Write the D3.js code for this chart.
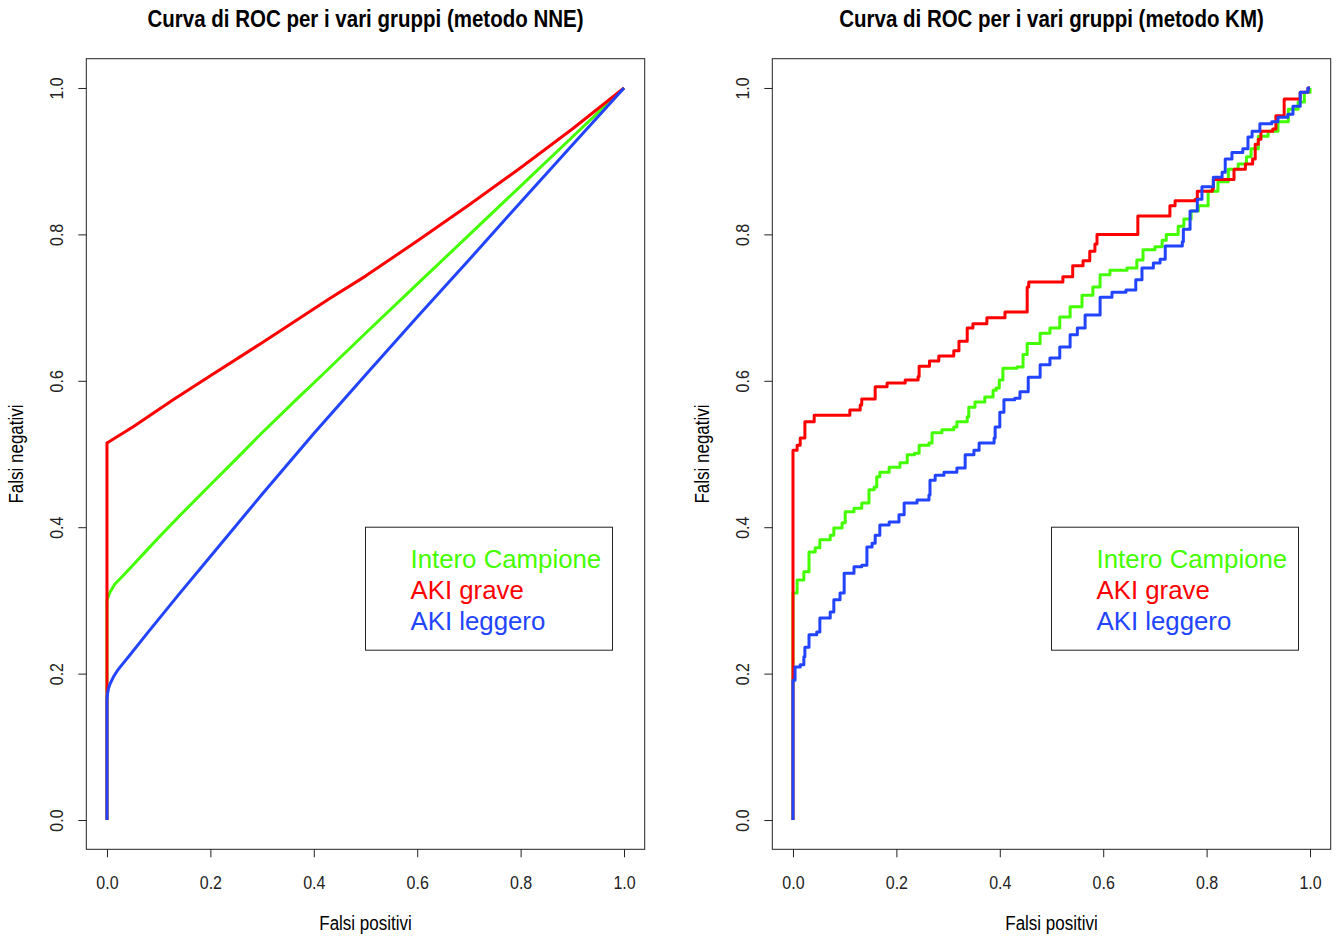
<!DOCTYPE html>
<html>
<head>
<meta charset="utf-8">
<script src="https://cdn.jsdelivr.net/npm/d3@7"></script>
<style>
  body { margin: 0; background: #fff; }
  svg text { font-family: "Liberation Sans", Arial, sans-serif; }
</style>
</head>
<body>
<div id="wrapper"></div>
<script>
// series labels and colours (legend order)
const seriesNames = ["Intero Campione", "AKI grave", "AKI leggero"]
const seriesColors = ["#44ff00", "#ff0000", "#2244ff"]
const tickValues = [0, 0.2, 0.4, 0.6, 0.8, 1.0]

// metodo NNE - smooth curves [falsi positivi, falsi negativi]
const nneIntero = [[0,0],[0,0.30],[0.005,0.31],[0.015,0.322],[0.03,0.333],[0.05,0.348],[0.075,0.367],[0.1,0.386],[0.141,0.416],[0.2,0.458],[0.251,0.494],[0.3,0.529],[0.373,0.579],[0.4,0.597],[0.5,0.665],[0.6,0.732],[0.7,0.799],[0.8,0.866],[0.9,0.933],[1,1]]
const nneGrave = [[0,0],[0,0.515],[0.05,0.537],[0.128,0.574],[0.2,0.607],[0.3,0.652],[0.43,0.712],[0.5,0.743],[0.6,0.791],[0.7,0.84],[0.8,0.891],[0.9,0.944],[1,1]]
const nneLeggero = [[0,0],[0,0.165],[0.001,0.172],[0.003,0.18],[0.006,0.186],[0.012,0.195],[0.02,0.204],[0.03,0.213],[0.044,0.225],[0.08,0.257],[0.141,0.31],[0.2,0.36],[0.3,0.445],[0.4,0.528],[0.5,0.608],[0.6,0.687],[0.7,0.765],[0.8,0.844],[0.9,0.922],[1,1]]

// metodo KM - step curves, each point = where the step jumps
const kmIntero = [[0,0],[0,0.31],[0.008,0.328],[0.021,0.339],[0.031,0.366],[0.043,0.372],[0.052,0.383],[0.072,0.389],[0.079,0.399],[0.095,0.406],[0.101,0.421],[0.118,0.426],[0.133,0.433],[0.147,0.451],[0.157,0.455],[0.162,0.469],[0.168,0.475],[0.186,0.482],[0.207,0.488],[0.221,0.499],[0.235,0.501],[0.244,0.512],[0.263,0.515],[0.269,0.529],[0.288,0.533],[0.311,0.537],[0.317,0.544],[0.337,0.551],[0.340,0.564],[0.352,0.571],[0.371,0.578],[0.387,0.587],[0.393,0.59],[0.399,0.601],[0.406,0.617],[0.433,0.619],[0.445,0.636],[0.453,0.651],[0.478,0.665],[0.497,0.672],[0.516,0.687],[0.536,0.701],[0.559,0.717],[0.580,0.728],[0.594,0.745],[0.613,0.751],[0.646,0.754],[0.665,0.765],[0.677,0.779],[0.700,0.783],[0.714,0.792],[0.722,0.80],[0.745,0.811],[0.756,0.821],[0.770,0.832],[0.784,0.839],[0.803,0.859],[0.822,0.872],[0.842,0.889],[0.861,0.896],[0.877,0.906],[0.886,0.917],[0.900,0.934],[0.919,0.941],[0.938,0.954],[0.958,0.971],[0.977,0.981],[0.989,0.994],[1,1]]
const kmGrave = [[0,0],[0,0.505],[0.008,0.512],[0.014,0.522],[0.023,0.544],[0.041,0.553],[0.110,0.56],[0.130,0.567],[0.133,0.575],[0.159,0.592],[0.182,0.597],[0.217,0.601],[0.242,0.606],[0.244,0.62],[0.264,0.627],[0.282,0.634],[0.311,0.641],[0.321,0.654],[0.337,0.672],[0.348,0.678],[0.375,0.686],[0.410,0.694],[0.453,0.728],[0.456,0.735],[0.522,0.742],[0.541,0.757],[0.561,0.764],[0.574,0.777],[0.584,0.787],[0.588,0.80],[0.667,0.825],[0.729,0.839],[0.739,0.846],[0.778,0.848],[0.782,0.859],[0.811,0.862],[0.813,0.875],[0.853,0.889],[0.875,0.896],[0.889,0.903],[0.894,0.923],[0.900,0.93],[0.905,0.941],[0.928,0.944],[0.934,0.962],[0.950,0.985],[0.981,0.994],[0.996,1.0],[1,1]]
const kmLeggero = [[0,0],[0,0.191],[0.004,0.209],[0.014,0.212],[0.021,0.223],[0.023,0.236],[0.031,0.253],[0.046,0.257],[0.052,0.276],[0.072,0.284],[0.079,0.301],[0.091,0.31],[0.099,0.337],[0.118,0.346],[0.133,0.348],[0.143,0.373],[0.153,0.378],[0.159,0.389],[0.168,0.403],[0.186,0.407],[0.205,0.417],[0.215,0.433],[0.240,0.437],[0.263,0.444],[0.265,0.464],[0.275,0.471],[0.292,0.475],[0.317,0.481],[0.333,0.499],[0.350,0.505],[0.360,0.515],[0.389,0.522],[0.391,0.537],[0.400,0.557],[0.408,0.574],[0.429,0.576],[0.439,0.585],[0.455,0.605],[0.478,0.622],[0.497,0.631],[0.516,0.646],[0.536,0.663],[0.550,0.672],[0.565,0.690],[0.594,0.714],[0.617,0.721],[0.644,0.724],[0.663,0.738],[0.675,0.754],[0.697,0.761],[0.710,0.766],[0.720,0.784],[0.753,0.79],[0.755,0.807],[0.768,0.832],[0.782,0.848],[0.791,0.865],[0.813,0.878],[0.830,0.885],[0.836,0.903],[0.849,0.912],[0.870,0.917],[0.880,0.933],[0.888,0.941],[0.903,0.951],[0.926,0.954],[0.938,0.96],[0.957,0.964],[0.967,0.975],[0.981,0.994],[0.996,1.0],[1,1]]

const width = 1339
const height = 937
// the original text is drawn a bit taller than wide
const stretch = 1.15

const svg = d3.select("#wrapper")
    .append("svg")
    .attr("width", width)
    .attr("height", height)

function drawPanel(opts) {
    // R pads the axis range by 4% on each side
    const xScale = d3.scaleLinear()
        .domain([-0.04, 1.04])
        .range([opts.left, opts.right])
    const yScale = d3.scaleLinear()
        .domain([-0.04, 1.04])
        .range([849.3, 58.7])

    const g = svg.append("g")

    // title
    g.append("text")
        .attr("transform", `translate(${(opts.left + opts.right) / 2}, 27) scale(1, ${stretch})`)
        .attr("text-anchor", "middle")
        .style("font-weight", "bold")
        .style("font-size", "20.5px")
        .text(opts.title)

    // curves
    const line = d3.line()
        .x(d => xScale(d[0]))
        .y(d => yScale(d[1]))
        .curve(opts.curve)

    opts.series.forEach((s, i) => {
        g.append("path")
            .datum(s)
            .attr("d", line)
            .attr("fill", "none")
            .attr("stroke", seriesColors[i])
            .attr("stroke-width", 3)
            .attr("stroke-linejoin", "round")
    })

    // box
    g.append("rect")
        .attr("x", xScale(-0.04))
        .attr("y", yScale(1.04))
        .attr("width", xScale(1.04) - xScale(-0.04))
        .attr("height", yScale(-0.04) - yScale(1.04))
        .attr("fill", "none")
        .attr("stroke", "#222")
        .attr("stroke-width", 1)

    // x axis
    const xAxis = g.append("g")
        .attr("transform", `translate(0, ${yScale(-0.04)})`)
        .call(d3.axisBottom(xScale).tickValues(tickValues).tickFormat(d3.format(".1f")).tickSize(8).tickSizeOuter(0))
    xAxis.select(".domain").remove()
    xAxis.selectAll("line").attr("stroke", "#222")
    xAxis.selectAll("text")
        .attr("y", 0).attr("dy", 0)
        .attr("transform", `translate(0, 40) scale(1, ${stretch})`)
        .attr("fill", "#222")
        .style("font-size", "16px")
        .style("font-family", "'Liberation Sans', Arial, sans-serif")

    // y axis, labels turned like in R
    const yAxis = g.append("g")
        .attr("transform", `translate(${xScale(-0.04)}, 0)`)
        .call(d3.axisLeft(yScale).tickValues(tickValues).tickFormat(d3.format(".1f")).tickSize(8).tickSizeOuter(0))
    yAxis.select(".domain").remove()
    yAxis.selectAll("line").attr("stroke", "#222")
    yAxis.selectAll("text")
        .attr("x", 0).attr("y", 0).attr("dy", 0)
        .attr("transform", `rotate(-90) translate(0, -23) scale(1, ${stretch})`)
        .attr("text-anchor", "middle")
        .attr("fill", "#222")
        .style("font-size", "16px")
        .style("font-family", "'Liberation Sans', Arial, sans-serif")

    // axis titles
    g.append("text")
        .attr("transform", `translate(${(opts.left + opts.right) / 2}, 930) scale(1, ${stretch})`)
        .attr("text-anchor", "middle")
        .style("font-size", "17px")
        .text("Falsi positivi")
    g.append("text")
        .attr("transform", `translate(${opts.left - 63}, ${(yScale(-0.04) + yScale(1.04)) / 2}) rotate(-90) scale(1, ${stretch})`)
        .attr("text-anchor", "middle")
        .style("font-size", "17px")
        .text("Falsi negativi")

    // legend, top-left corner at (0.5, 0.4)
    const lx = xScale(0.5)
    const ly = yScale(0.4)
    g.append("rect")
        .attr("x", lx)
        .attr("y", ly)
        .attr("width", 247)
        .attr("height", 123)
        .attr("fill", "#fff")
        .attr("stroke", "#222")
    seriesNames.forEach((name, i) => {
        g.append("text")
            .attr("x", lx + 45)
            .attr("y", ly + 41 + i * 31)
            .attr("fill", seriesColors[i])
            .style("font-size", "25.8px")
            .text(name)
    })
}

drawPanel({
    title: "Curva di ROC per i vari gruppi (metodo NNE)",
    left: 86.3, right: 644.7,
    series: [nneIntero, nneGrave, nneLeggero],
    curve: d3.curveLinear
})

drawPanel({
    title: "Curva di ROC per i vari gruppi (metodo KM)",
    left: 772.3, right: 1330.7,
    series: [kmIntero, kmGrave, kmLeggero],
    curve: d3.curveStepAfter
})
</script>
</body>
</html>
